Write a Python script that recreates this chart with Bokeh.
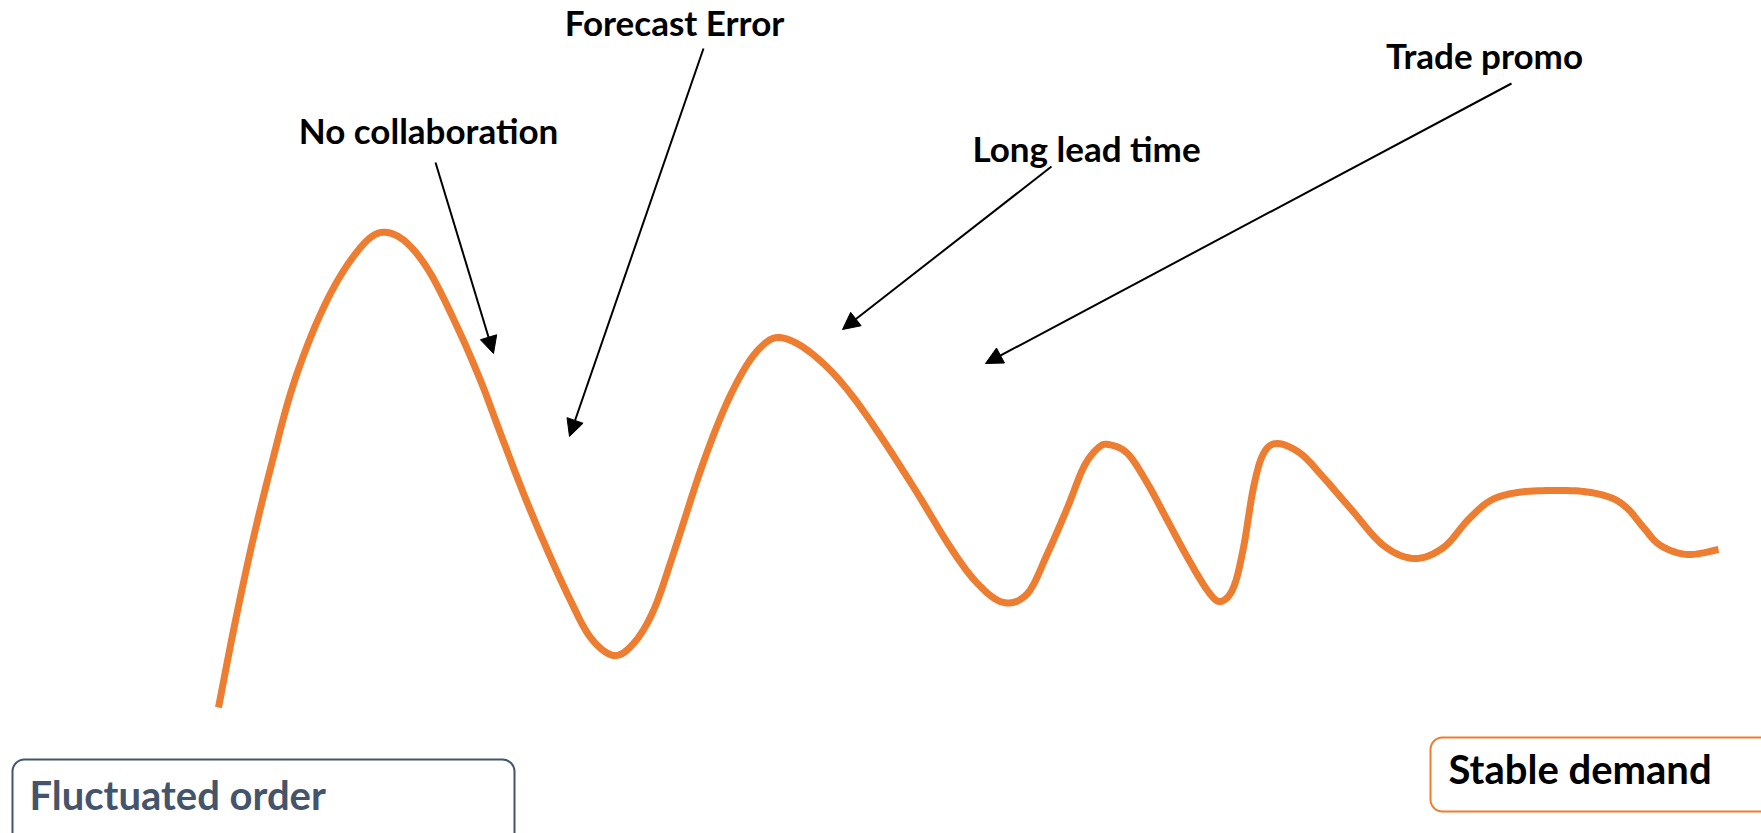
import numpy as np
from bokeh.plotting import figure
from bokeh.models import Range1d, Arrow, NormalHead, BoxAnnotation, ColumnDataSource
from bokeh.core.properties import value
from bokeh.embed import file_html
from bokeh.resources import INLINE

# ---- data (pixel-like units, y grows downward) ----
curve_x = [218, 235, 253, 272, 290, 310, 330, 350, 370, 387, 407, 430, 457, 480, 500, 523,
           547, 570, 590, 613, 633, 653, 673, 700, 723, 743, 760, 777, 800, 827, 853, 883,
           917, 950, 977, 1003, 1027, 1047, 1067, 1083, 1097, 1108, 1127, 1147, 1167, 1187,
           1207, 1220, 1233, 1243, 1253, 1263, 1277, 1300, 1323, 1350, 1383, 1414, 1443,
           1467, 1490, 1517, 1550, 1583, 1610, 1627, 1643, 1660, 1687, 1718]
curve_y = [707, 620, 537, 460, 393, 337, 293, 260, 237, 232, 243, 273, 327, 380, 433, 493,
           550, 600, 637, 655, 643, 610, 553, 470, 410, 370, 347, 337, 345, 367, 397, 440,
           493, 547, 583, 602, 593, 553, 507, 467, 448, 444, 453, 483, 520, 557,
           590, 601, 587, 547, 487, 453, 443, 453, 477, 508, 545, 558, 547,
           520, 500, 492, 490, 491, 497, 508, 527, 545, 554, 549]

label_text = ["No collaboration", "Forecast Error", "Long lead time", "Trade promo"]
label_x = [428, 674, 1086, 1484]
label_y = [144, 36, 162, 69]          # baselines

arrow_x0 = [435, 703, 1051, 1511]
arrow_y0 = [162, 48, 166, 83]
arrow_x1 = [493, 569, 842, 985]
arrow_y1 = [353, 436, 329, 363]

box_text = ["Fluctuated order", "Stable demand"]

ORANGE = "#ED7D31"
SLATE = "#44546A"
LABEL_PX = 35
BOX1_PX = 40
BOX2_PX = 40
BASE_SHIFT = 0.42   # renderer places alphabetic baseline ~0.42em lower


def smooth_path(xs, ys, steps=8):
    """Uniform Catmull-Rom rendering path through the read points."""
    pts = np.column_stack([xs, ys]).astype(float)
    pts = np.vstack([pts[0], pts, pts[-1]])
    out = []
    t = np.linspace(0, 1, steps, endpoint=False)
    for i in range(1, len(pts) - 2):
        p0, p1, p2, p3 = pts[i - 1], pts[i], pts[i + 1], pts[i + 2]
        for tt in t:
            t2, t3 = tt * tt, tt * tt * tt
            out.append(0.5 * ((2 * p1) + (-p0 + p2) * tt +
                              (2 * p0 - 5 * p1 + 4 * p2 - p3) * t2 +
                              (-p0 + 3 * p1 - 3 * p2 + p3) * t3))
    out.append(pts[-2])
    out = np.array(out)
    return out[:, 0], out[:, 1]


p = figure(width=1761, height=833, output_backend="svg", toolbar_location=None,
           x_range=Range1d(0, 1761), y_range=Range1d(833, 0), min_border=0)
p.axis.visible = False
p.grid.visible = False
p.outline_line_color = None
p.background_fill_color = "white"

# boxes (under the text)
p.add_layout(BoxAnnotation(left=12, right=514, top=759, bottom=880, level="underlay",
                           fill_color="white", fill_alpha=1.0, line_color=SLATE,
                           line_alpha=1.0, line_width=2, border_radius=12))
p.add_layout(BoxAnnotation(left=1430, right=1820, top=737, bottom=811, level="underlay",
                           fill_color="white", fill_alpha=1.0, line_color=ORANGE,
                           line_alpha=1.0, line_width=2, border_radius=12))

# curve
sx, sy = smooth_path(curve_x, curve_y)
p.line(sx, sy, line_color=ORANGE, line_width=7, line_join="round", line_cap="butt")

# arrows
for x0, y0, x1, y1 in zip(arrow_x0, arrow_y0, arrow_x1, arrow_y1):
    p.add_layout(Arrow(end=NormalHead(size=17, fill_color="black", line_color="black"),
                       x_start=x0, y_start=y0, x_end=x1, y_end=y1,
                       line_color="black", line_width=2))

src = ColumnDataSource(dict(x=label_x, y=[v - BASE_SHIFT * LABEL_PX for v in label_y],
                            text=label_text))
p.text(x="x", y="y", text="text", source=src, text_font=value("Lato"),
       text_font_style="bold", text_font_size=f"{LABEL_PX}px", text_color="black",
       text_align="center", text_baseline="alphabetic")

p.text(x=[29], y=[811 - BASE_SHIFT * BOX1_PX], text=[box_text[0]], text_font=value("Lato"),
       text_font_style="bold", text_font_size=f"{BOX1_PX}px", text_color=SLATE,
       text_align="left", text_baseline="alphabetic")
p.text(x=[1448], y=[785 - BASE_SHIFT * BOX2_PX], text=[box_text[1]], text_font=value("Lato"),
       text_font_style="bold", text_font_size=f"{BOX2_PX}px", text_color="black",
       text_align="left", text_baseline="alphabetic")

open("out.html", "w").write(file_html(p, INLINE))
